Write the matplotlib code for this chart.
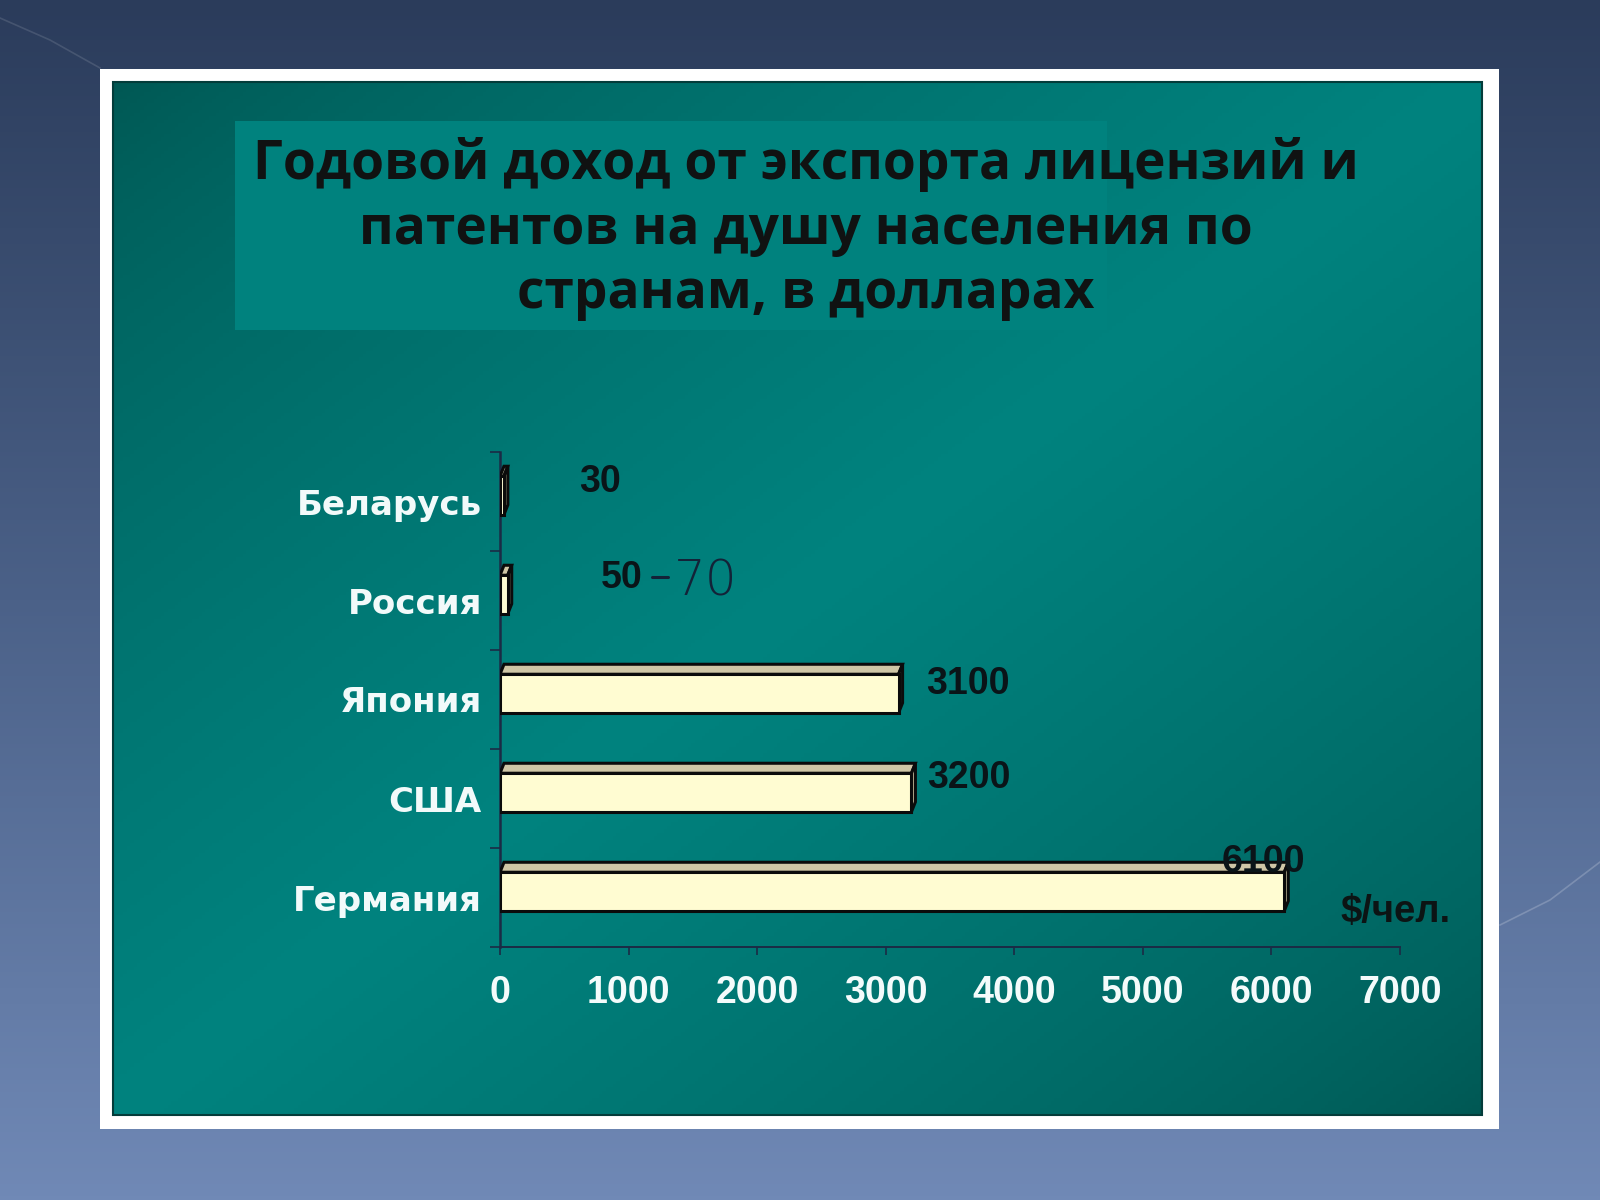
import numpy as np
import matplotlib.pyplot as plt
from matplotlib.patches import Rectangle, Polygon

# === DATA ===
countries = ['Беларусь', 'Россия', 'Япония', 'США', 'Германия']
values = [30, 60, 3100, 3200, 6100]
value_labels = ['30', '50', '3100', '3200', '6100']
russia_note = '70'
x_ticks = [0, 1000, 2000, 3000, 4000, 5000, 6000, 7000]
title_lines = ['Годовой доход от экспорта лицензий и',
               'патентов на душу населения по',
               'странам, в долларах']
unit_label = '$/чел.'

# === STYLE ===
W, H = 1600, 1200
FRONT = '#fffcd2'
TOP = '#cfc6a6'
SIDE = '#bdb594'
EDGE = '#0b0b0b'
AXIS = '#1b2b45'
# label offsets (px, right / up) from bar end and category centre
label_offsets = [(96, 20), (114, 22), (69, 15), (57, 21), (-21, 35)]


def hex2rgb(h):
    h = h.lstrip('#')
    return np.array([int(h[i:i + 2], 16) for i in (0, 2, 4)]) / 255.0


fig = plt.figure(figsize=(16, 12), dpi=100)

# background layer in pixel coordinates
bg = fig.add_axes([0, 0, 1, 1])
bg.axis('off')

# outer slide gradient
gy = np.linspace(0, 1, 300)[:, None, None]
c_top, c_mid, c_bot = hex2rgb('#2b3c5b'), hex2rgb('#4b6188'), hex2rgb('#7089b6')
outer = np.where(gy < 0.5, c_top + (c_mid - c_top) * gy * 2,
                 c_mid + (c_bot - c_mid) * (gy - 0.5) * 2)
outer = np.repeat(outer, 2, axis=1)
bg.imshow(outer, extent=(0, W, H, 0), aspect='auto', zorder=0)

# faint decorative strokes
bg.plot([0, 50, 100], [18, 40, 68], color='white', alpha=0.12, lw=1.2, zorder=1)
bg.plot([1500, 1550, 1600], [925, 900, 862], color='white', alpha=0.2, lw=1.2, zorder=1)

# white frame
bg.add_patch(Rectangle((100, 69), 1399, 1060, fc='white', ec='none', zorder=1))

# teal panel with diagonal gradient
px0, py0, px1, py1 = 113, 82, 1482, 1115
gx = np.linspace(0, 1, 400)[None, :]
gy2 = np.linspace(0, 1, 300)[:, None]
t = (gx + gy2) / 2
s = (1 - np.abs(2 * t - 1)) ** 0.7
dark, bright = hex2rgb('#005753'), hex2rgb('#00837f')
panel = dark + (bright - dark) * s[..., None]
bg.imshow(panel, extent=(px0, px1, py1, py0), aspect='auto', zorder=2)
bg.add_patch(Rectangle((px0, py0), px1 - px0, py1 - py0, fc='none',
                       ec='#043c3a', lw=1.5, zorder=3))

# title box
bg.add_patch(Rectangle((235, 121), 872, 209, fc='#00827e', ec='none', zorder=3))
title_y = [165, 230, 294]
for line, ty in zip(title_lines, title_y):
    bg.text(806, ty, line, ha='center', va='center', fontsize=38.3,
            family='Open Sans', fontweight='bold', color='#101212', zorder=4)

bg.set_xlim(0, W)
bg.set_ylim(H, 0)

# === CHART ===
ax = fig.add_axes([500 / W, 1 - 947 / H, 900 / W, 495 / H])
ax.set_facecolor('none')
ax.set_xlim(0, 7000)
ax.set_ylim(-0.5, len(countries) - 0.5)

# data units per pixel
ux = 7000 / 900
uy = len(countries) / 495
dx, dy = 4 * ux, 10 * uy

pos = np.arange(len(countries))[::-1]
bar_h = 0.39
shift = 0.06

for p, v in zip(pos, values):
    y0 = p + shift - bar_h / 2
    y1 = p + shift + bar_h / 2
    # top face
    ax.add_patch(Polygon([(0, y1), (v, y1), (v + dx, y1 + dy), (dx, y1 + dy)],
                         closed=True, fc=TOP, ec=EDGE, lw=2.2, zorder=3))
    # side face
    ax.add_patch(Polygon([(v, y0), (v + dx, y0 + dy), (v + dx, y1 + dy), (v, y1)],
                         closed=True, fc=SIDE, ec=EDGE, lw=2.2, zorder=3))
ax.barh(pos + shift, values, height=bar_h, color=FRONT, edgecolor=EDGE,
        linewidth=2.2, zorder=4)

# value labels
for p, v, lab, (ox, oy) in zip(pos, values, value_labels, label_offsets):
    ax.annotate(lab, xy=(v, p), xytext=(ox * 0.72, oy * 0.72),
                textcoords='offset points', ha='center', va='center',
                fontsize=27, family='Liberation Sans', fontweight='bold',
                color='#0a1418', zorder=6, annotation_clip=False)

# handwritten addition next to Russia: a dash and "70"
ax.annotate('', xy=(values[1], pos[1]), xytext=(0, 0), textcoords='offset points',
            annotation_clip=False)
ax.plot([values[1] + 144 * ux, values[1] + 160 * ux], [pos[1] + 24 * uy] * 2,
        color='#132338', lw=2.2, solid_capstyle='round', zorder=6)
ax.annotate(russia_note, xy=(values[1], pos[1]), xytext=((706 - 508) * 0.72, 19 * 0.72),
            textcoords='offset points', ha='center', va='center',
            fontsize=36, family='DejaVu Sans', fontweight='light',
            color='#132338', zorder=6, annotation_clip=False)

# unit label
bg.text(1396, 912, unit_label, ha='center', va='center', fontsize=27.5,
        family='Liberation Sans', fontweight='bold', color='#0c1414', zorder=6)

# axes styling
for side in ['top', 'right']:
    ax.spines[side].set_visible(False)
ax.spines['left'].set_color(AXIS)
ax.spines['left'].set_linewidth(1.8)
ax.spines['bottom'].set_color(AXIS)
ax.spines['bottom'].set_linewidth(1.4)

ax.set_xticks(x_ticks)
ax.set_xticklabels([str(x) for x in x_ticks])
ax.tick_params(axis='x', direction='out', length=6, width=1.2, color=AXIS,
               pad=14, labelsize=27, labelcolor='#f4fbfb')
for lab in ax.get_xticklabels():
    lab.set_family('Liberation Sans')
    lab.set_fontweight('bold')

ax.set_yticks(pos)
ax.set_yticklabels(countries)
ax.set_yticks(np.arange(-0.5, len(countries)), minor=True)
ax.tick_params(axis='y', which='major', length=0, pad=13, labelsize=24.5,
               labelcolor='#f2fafa')
ax.tick_params(axis='y', which='minor', direction='out', length=7, width=1.2,
               color=AXIS)
for lab in ax.get_yticklabels():
    lab.set_family('DejaVu Sans')
    lab.set_fontweight('bold')

plt.savefig('out.png', dpi=100)
